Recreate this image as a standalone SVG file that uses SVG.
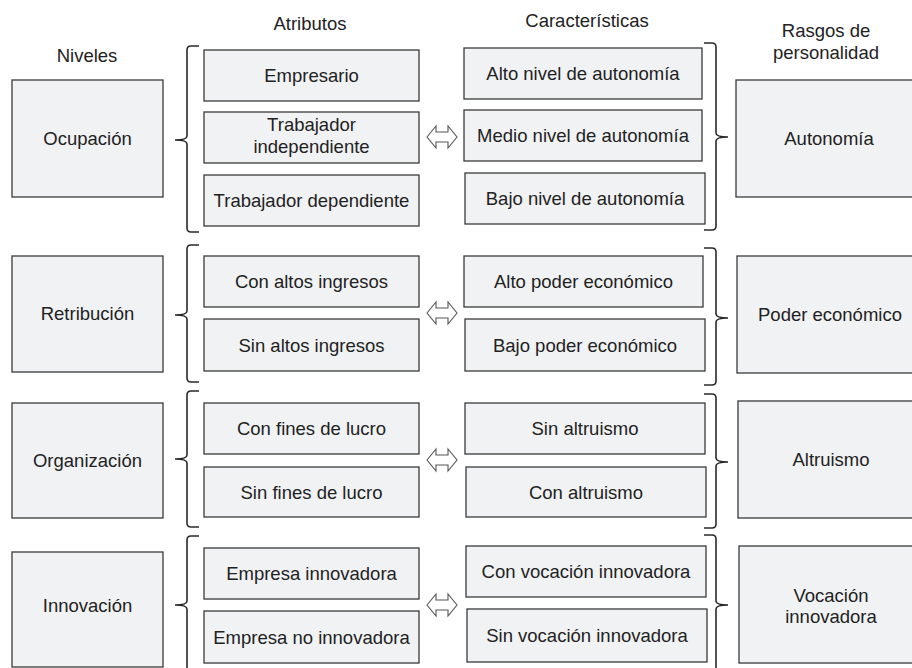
<svg xmlns="http://www.w3.org/2000/svg" width="912" height="668" viewBox="0 0 912 668">
<style>
.box{fill:#f1f2f4;stroke:#3a3a3a;stroke-width:1.3}
text{font-family:"Liberation Sans",Arial,sans-serif;font-size:18.5px;fill:#222;text-anchor:middle}
.br{fill:none;stroke:#2a2a2a;stroke-width:1.6}
.arr{fill:#fff;stroke:#555;stroke-width:1.1}
</style>
<defs>
<polygon id="dbl" class="arr" points="-15,0 -6,-11 -6,-5 6,-5 6,-11 15,0 6,11 6,5 -6,5 -6,11"/>
</defs>
<rect width="912" height="668" fill="#fff"/>
<g id="headers">
<text x="87" y="61.5">Niveles</text>
<text x="310" y="29.5">Atributos</text>
<text x="587" y="26.5">Características</text>
<text x="826" y="37">Rasgos de</text>
<text x="826" y="59">personalidad</text>
</g>
<!-- Row 1 -->
<g id="lvl-ocupacion"><rect class="box" x="12" y="80" width="151" height="117"/><text x="87.5" y="145">Ocupación</text></g>
<g id="attr-empresario"><rect class="box" x="204" y="50" width="215" height="51"/><text x="311.5" y="82">Empresario</text></g>
<g id="attr-independiente"><rect class="box" x="204" y="112" width="215" height="51"/><text x="311.5" y="131">Trabajador</text><text x="311.5" y="153">independiente</text></g>
<g id="attr-dependiente"><rect class="box" x="204" y="175" width="215" height="51"/><text x="311.5" y="207">Trabajador dependiente</text></g>
<g id="car-alto-aut"><rect class="box" x="464" y="48" width="238" height="51"/><text x="583" y="80">Alto nivel de autonomía</text></g>
<g id="car-medio-aut"><rect class="box" x="464" y="110" width="238" height="51"/><text x="583" y="142">Medio nivel de autonomía</text></g>
<g id="car-bajo-aut"><rect class="box" x="465" y="173" width="240" height="51"/><text x="585" y="205">Bajo nivel de autonomía</text></g>
<g id="rasgo-autonomia"><rect class="box" x="736" y="80" width="186" height="117"/><text x="829" y="145">Autonomía</text></g>
<!-- Row 2 -->
<g id="lvl-retribucion"><rect class="box" x="12" y="256" width="151" height="116"/><text x="87.5" y="320">Retribución</text></g>
<g id="attr-con-ingresos"><rect class="box" x="204" y="256" width="215" height="51"/><text x="311.5" y="288">Con altos ingresos</text></g>
<g id="attr-sin-ingresos"><rect class="box" x="204" y="319" width="215" height="52"/><text x="311.5" y="351.5">Sin altos ingresos</text></g>
<g id="car-alto-poder"><rect class="box" x="464" y="256" width="239" height="51"/><text x="583.5" y="288">Alto poder económico</text></g>
<g id="car-bajo-poder"><rect class="box" x="465" y="319" width="240" height="52"/><text x="585" y="351.5">Bajo poder económico</text></g>
<g id="rasgo-poder"><rect class="box" x="737" y="256" width="186" height="117"/><text x="830" y="321">Poder económico</text></g>
<!-- Row 3 -->
<g id="lvl-organizacion"><rect class="box" x="12" y="403" width="151" height="115"/><text x="87.5" y="467">Organización</text></g>
<g id="attr-con-lucro"><rect class="box" x="204" y="403" width="215" height="51"/><text x="311.5" y="435">Con fines de lucro</text></g>
<g id="attr-sin-lucro"><rect class="box" x="204" y="467" width="215" height="50"/><text x="311.5" y="498.5">Sin fines de lucro</text></g>
<g id="car-sin-altruismo"><rect class="box" x="465" y="403" width="240" height="51"/><text x="585" y="435">Sin altruismo</text></g>
<g id="car-con-altruismo"><rect class="box" x="466" y="467" width="240" height="50"/><text x="586" y="498.5">Con altruismo</text></g>
<g id="rasgo-altruismo"><rect class="box" x="738" y="401" width="186" height="117"/><text x="831" y="466">Altruismo</text></g>
<!-- Row 4 -->
<g id="lvl-innovacion"><rect class="box" x="12" y="552" width="151" height="115"/><text x="87.5" y="612">Innovación</text></g>
<g id="attr-emp-innov"><rect class="box" x="204" y="548" width="215" height="51"/><text x="311.5" y="580">Empresa innovadora</text></g>
<g id="attr-emp-no-innov"><rect class="box" x="204" y="611" width="215" height="52"/><text x="311.5" y="643.5">Empresa no innovadora</text></g>
<g id="car-con-voc"><rect class="box" x="466" y="546" width="240" height="51"/><text x="586" y="578">Con vocación innovadora</text></g>
<g id="car-sin-voc"><rect class="box" x="467" y="609" width="240" height="53"/><text x="587" y="642">Sin vocación innovadora</text></g>
<g id="rasgo-vocacion"><rect class="box" x="739" y="546" width="186" height="117"/><text x="831" y="601.5">Vocación</text><text x="831" y="623">innovadora</text></g>
<g id="connectors">
<!-- left braces -->
<path class="br" d="M199,46 L191,46 Q187,46 187,50 L187,136 Q187,140 175,140 Q187,140 187,144 L187,228 Q187,232 191,232 L199,232"/>
<path class="br" d="M199,245 L191,245 Q187,245 187,249 L187,311 Q187,315 175,315 Q187,315 187,319 L187,378 Q187,382 191,382 L199,382"/>
<path class="br" d="M199,391 L191,391 Q187,391 187,395 L187,455 Q187,459 175,459 Q187,459 187,463 L187,523 Q187,527 191,527 L199,527"/>
<path class="br" d="M199,536 L191,536 Q187,536 187,540 L187,601 Q187,605 175,605 Q187,605 187,609 L187,672"/>
<!-- right braces -->
<path class="br" d="M704,43 L712,43 Q716,43 716,47 L716,133 Q716,137 728,137 Q716,137 716,141 L716,226 Q716,230 712,230 L704,230"/>
<path class="br" d="M704,248 L712,248 Q716,248 716,252 L716,314 Q716,318 728,318 Q716,318 716,322 L716,381 Q716,385 712,385 L704,385"/>
<path class="br" d="M704,394 L712,394 Q716,394 716,398 L716,458 Q716,462 728,462 Q716,462 716,466 L716,524 Q716,528 712,528 L704,528"/>
<path class="br" d="M704,535 L712,535 Q716,535 716,539 L716,601 Q716,605 728,605 Q716,605 716,609 L716,672"/>
<!-- double arrows -->
<use href="#dbl" x="442" y="137"/>
<use href="#dbl" x="442" y="313"/>
<use href="#dbl" x="442" y="460"/>
<use href="#dbl" x="442" y="605"/>
</g>
</svg>
